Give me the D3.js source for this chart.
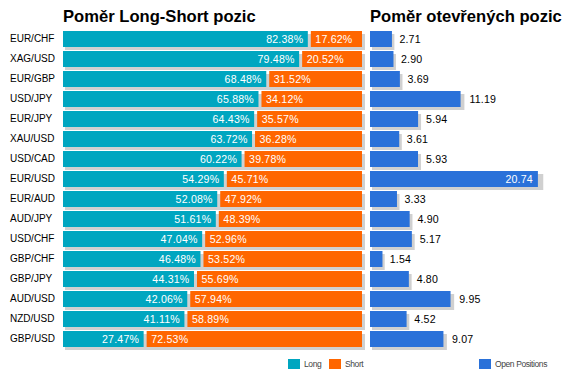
<!DOCTYPE html>
<html>
<head>
<meta charset="utf-8">
<script src="https://cdn.jsdelivr.net/npm/d3@7"></script>
<style>
html,body{margin:0;padding:0;background:#fff;}
svg{display:block;}
</style>
</head>
<body>
<div id="chart"></div>
<script>
const categories = ["EUR/CHF","XAG/USD","EUR/GBP","USD/JPY","EUR/JPY","XAU/USD","USD/CAD","EUR/USD","EUR/AUD","AUD/JPY","USD/CHF","GBP/CHF","GBP/JPY","AUD/USD","NZD/USD","GBP/USD"];
const longValues = [82.38,79.48,68.48,65.88,64.43,63.72,60.22,54.29,52.08,51.61,47.04,46.48,44.31,42.06,41.11,27.47];
const shortValues = [17.62,20.52,31.52,34.12,35.57,36.28,39.78,45.71,47.92,48.39,52.96,53.52,55.69,57.94,58.89,72.53];
const openValues = [2.71,2.90,3.69,11.19,5.94,3.61,5.93,20.74,3.33,4.90,5.17,1.54,4.80,9.95,4.52,9.07];
const titles = ["Poměr Long-Short pozic","Poměr otevřených pozic"];
const legendLeft = ["Long","Short"];
const legendRight = ["Open Positions"];

const W = 570, H = 378;
const C_LONG = "#00a6c0", C_SHORT = "#ff6600", C_OPEN = "#2a71d9", C_SHADOW = "#d0d0d0";
const NUMFONT = "'Liberation Sans', Arial, sans-serif";

const svg = d3.select("#chart").append("svg").attr("width", W).attr("height", H);

const y = d3.scaleBand().domain(categories).range([29, 349]).paddingInner(0.2).paddingOuter(0.1);
const xL = d3.scaleLinear().domain([0, 100]).range([63, 362]);
const xR = d3.scaleLinear().domain([0, 21]).range([370, 540]);

// titles
svg.append("text").attr("x", xL(0)).attr("y", 22).text(titles[0])
  .attr("font-family", NUMFONT).attr("font-weight", "bold").attr("font-size", "16.6px").attr("fill", "#000");
svg.append("text").attr("x", xR(0)).attr("y", 22).text(titles[1])
  .attr("font-family", NUMFONT).attr("font-weight", "bold").attr("font-size", "16.6px").attr("fill", "#000");

// category axis labels
const yAxis = d3.axisLeft(y).tickSize(0).tickPadding(0);
const gAxis = svg.append("g").attr("transform", "translate(10,0)").call(yAxis);
gAxis.select(".domain").remove();
gAxis.selectAll("text").attr("text-anchor", "start").attr("x", 0)
  .attr("font-family", NUMFONT).attr("font-size", "10px").attr("fill", "#000").style("letter-spacing", "0px");

const rows = categories.map((c, i) => ({c, l: longValues[i], s: shortValues[i], o: openValues[i]}));

// left chart
const gL = svg.append("g");
gL.selectAll("rect.sh").data(rows).join("rect").attr("class", "sh")
  .attr("x", xL(0) + 2).attr("y", d => y(d.c) + 3)
  .attr("width", xL(100) - xL(0) + 1).attr("height", y.bandwidth()).attr("fill", C_SHADOW);
gL.selectAll("rect.lg").data(rows).join("rect").attr("class", "lg")
  .attr("x", xL(0)).attr("y", d => y(d.c))
  .attr("width", d => xL(d.l) - xL(0) - 1.5).attr("height", y.bandwidth()).attr("fill", C_LONG);
gL.selectAll("rect.st").data(rows).join("rect").attr("class", "st")
  .attr("x", d => xL(d.l) + 1.5).attr("y", d => y(d.c))
  .attr("width", d => xL(100) - xL(d.l) - 1.5).attr("height", y.bandwidth()).attr("fill", C_SHORT);
gL.selectAll("text.lt").data(rows).join("text").attr("class", "lt")
  .attr("x", d => xL(d.l) - 6).attr("y", d => y(d.c) + y.bandwidth() / 2).attr("dy", "0.36em")
  .attr("text-anchor", "end").attr("fill", "#fff").attr("font-family", NUMFONT).attr("font-size", "10.6px")
  .style("letter-spacing", "0.2px")
  .text(d => d.l.toFixed(2) + "%");
gL.selectAll("text.stt").data(rows).join("text").attr("class", "stt")
  .attr("x", d => xL(d.l) + 6).attr("y", d => y(d.c) + y.bandwidth() / 2).attr("dy", "0.36em")
  .attr("text-anchor", "start").attr("fill", "#fff").attr("font-family", NUMFONT).attr("font-size", "10.6px")
  .style("letter-spacing", "0.2px")
  .text(d => d.s.toFixed(2) + "%");

// right chart
const gR = svg.append("g");
const bw = d => xR(d.o) - xR(0);
gR.selectAll("rect.sh").data(rows).join("rect").attr("class", "sh")
  .attr("x", xR(0) + 2).attr("y", d => y(d.c) + 3)
  .attr("width", d => bw(d) * 1.02).attr("height", y.bandwidth()).attr("fill", C_SHADOW);
gR.selectAll("rect.op").data(rows).join("rect").attr("class", "op")
  .attr("x", xR(0)).attr("y", d => y(d.c))
  .attr("width", d => bw(d)).attr("height", y.bandwidth()).attr("fill", C_OPEN);
const inside = d => xR(d.o) + 40 > W;
gR.selectAll("text.ov").data(rows).join("text").attr("class", "ov")
  .attr("x", d => inside(d) ? xR(d.o) - 5 : xR(0) + 2 + bw(d) * 1.02 + 5)
  .attr("y", d => y(d.c) + y.bandwidth() / 2).attr("dy", "0.36em")
  .attr("text-anchor", d => inside(d) ? "end" : "start")
  .attr("fill", d => inside(d) ? "#fff" : "#000")
  .attr("font-family", NUMFONT).attr("font-size", "10.6px").style("letter-spacing", "0.2px")
  .text(d => d.o.toFixed(2));

// legends
const legendItems = [
  {t: legendLeft[0], c: C_LONG, x: 288},
  {t: legendLeft[1], c: C_SHORT, x: 329},
  {t: legendRight[0], c: C_OPEN, x: 479}
];
const gLeg = svg.append("g");
gLeg.selectAll("rect").data(legendItems).join("rect")
  .attr("x", d => d.x).attr("y", 359).attr("width", 12).attr("height", 10).attr("fill", d => d.c);
gLeg.selectAll("text").data(legendItems).join("text")
  .attr("x", d => d.x + 16).attr("y", 364).attr("dy", "0.36em")
  .attr("font-family", NUMFONT).attr("font-size", "8.5px").attr("fill", "#444")
  .style("letter-spacing", "-0.4px")
  .text(d => d.t);
</script>
</body>
</html>
